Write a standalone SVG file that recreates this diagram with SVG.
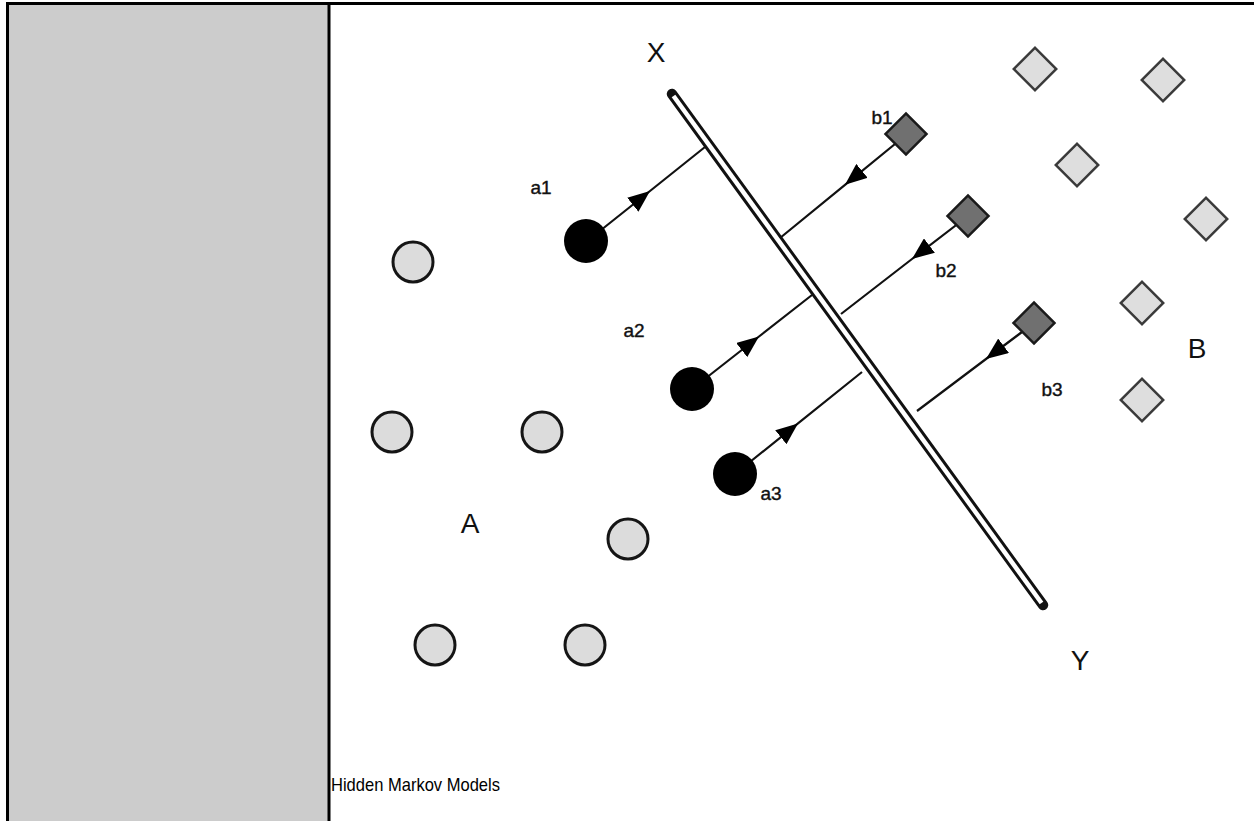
<svg xmlns="http://www.w3.org/2000/svg" width="1254" height="821" viewBox="0 0 1254 821">
<style>
.lbl{font-family:"Liberation Sans",Arial,sans-serif;fill:#111;text-anchor:middle;dominant-baseline:central}
.big{font-size:28px}
.small{font-size:19px;stroke:#111;stroke-width:0.4}
.pt{fill:#dcdcdc;stroke:#151515;stroke-width:3}
.sel{fill:#000}
.dia{fill:#dedede;stroke:#3a3a3a;stroke-width:2.5}
.dsq{fill:#707070;stroke:#1a1a1a;stroke-width:2.5}
.con{fill:none;stroke:#111;stroke-width:2.2;marker-mid:url(#arr)}
</style>
<defs>
<marker id="arr" viewBox="0 0 22 18" refX="22" refY="9" markerWidth="22" markerHeight="18" markerUnits="userSpaceOnUse" orient="auto">
<path d="M0,0 L22,9 L0,18 z" fill="#000"/>
</marker>
</defs>
<g id="table">
<rect x="7.5" y="3.5" width="321" height="830" fill="#cccccc"/>
<rect x="7.5" y="3.5" width="1260" height="830" fill="none" stroke="#000" stroke-width="3"/>
<line x1="329" y1="3" x2="329" y2="821" stroke="#000" stroke-width="3"/>
</g>
<g id="bar">
<line x1="672" y1="94" x2="1043" y2="605" stroke="#111" stroke-width="10.5" stroke-linecap="round"/>
<line x1="673.5" y1="96" x2="1041.5" y2="603" stroke="#fff" stroke-width="4.5"/>
</g>
<g id="connectors">
<polyline class="con" points="586,242 650,191 705,147"/>
<polyline class="con" points="906,135 845,184.8 780,238"/>
<polyline class="con" points="968,216 912,259 841,314"/>
<polyline class="con" points="692,389 759,336.5 812,295"/>
<polyline class="con" points="735,474 798,423.4 862,372"/>
<polyline class="con" points="1034,323 986,359 917,411"/>
</g>
<g id="class-A">
<circle class="pt" cx="413" cy="262" r="20"/>
<circle class="pt" cx="392" cy="432" r="20"/>
<circle class="pt" cx="542" cy="432" r="20"/>
<circle class="pt" cx="628" cy="539" r="20"/>
<circle class="pt" cx="435" cy="645" r="20"/>
<circle class="pt" cx="585" cy="645" r="20"/>
</g>
<g id="a1"><circle class="sel" cx="586" cy="241" r="22"/></g>
<g id="a2"><circle class="sel" cx="692" cy="389" r="22"/></g>
<g id="a3"><circle class="sel" cx="735" cy="474" r="22"/></g>
<g id="class-B">
<rect class="dia" x="-15" y="-15" width="30" height="30" transform="translate(1035,69) rotate(45)"/>
<rect class="dia" x="-15" y="-15" width="30" height="30" transform="translate(1163,80) rotate(45)"/>
<rect class="dia" x="-15" y="-15" width="30" height="30" transform="translate(1077,165) rotate(45)"/>
<rect class="dia" x="-15" y="-15" width="30" height="30" transform="translate(1206,219) rotate(45)"/>
<rect class="dia" x="-15" y="-15" width="30" height="30" transform="translate(1142,303) rotate(45)"/>
<rect class="dia" x="-15" y="-15" width="30" height="30" transform="translate(1142,400) rotate(45)"/>
</g>
<g id="b1"><rect class="dsq" x="-14.5" y="-14.5" width="29" height="29" transform="translate(906,134) rotate(45)"/></g>
<g id="b2"><rect class="dsq" x="-14.5" y="-14.5" width="29" height="29" transform="translate(968,216) rotate(45)"/></g>
<g id="b3"><rect class="dsq" x="-14.5" y="-14.5" width="29" height="29" transform="translate(1034,323) rotate(45)"/></g>
<g id="labels">
<text class="lbl big" x="656" y="52">X</text>
<text class="lbl big" x="1080" y="660">Y</text>
<text class="lbl big" x="470" y="523">A</text>
<text class="lbl big" x="1197" y="348">B</text>
<text class="lbl small" x="541" y="187">a1</text>
<text class="lbl small" x="882" y="117">b1</text>
<text class="lbl small" x="634" y="330">a2</text>
<text class="lbl small" x="946" y="270">b2</text>
<text class="lbl small" x="1052" y="389">b3</text>
<text class="lbl small" x="771" y="493">a3</text>
</g>
<g id="caption">
<text x="331" y="791" font-family="Liberation Sans, Arial, sans-serif" font-size="19" textLength="169" lengthAdjust="spacingAndGlyphs" fill="#000">Hidden Markov Models</text>
</g>
</svg>
